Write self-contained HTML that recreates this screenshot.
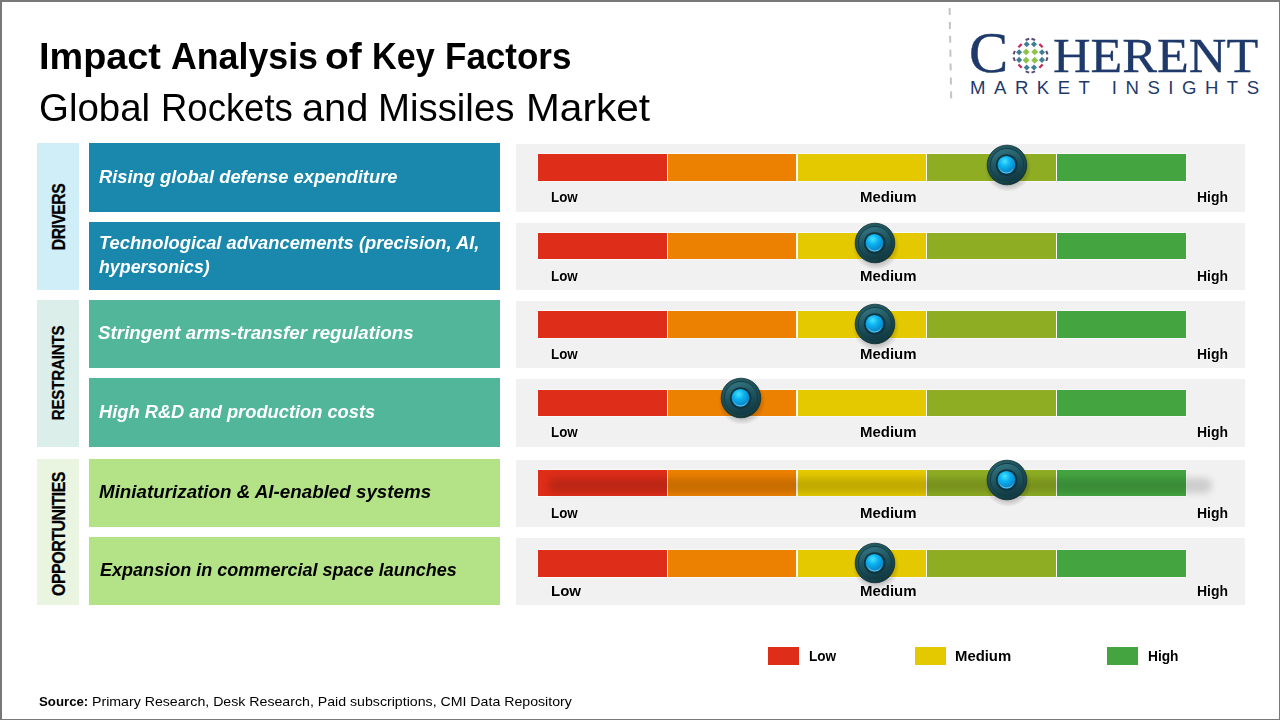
<!DOCTYPE html>
<html><head><meta charset="utf-8">
<style>
*{margin:0;padding:0;box-sizing:border-box}
html,body{width:1280px;height:720px;overflow:hidden;background:#fff}
body{position:relative;font-family:"Liberation Sans",sans-serif}
.t{position:absolute;line-height:1;white-space:nowrap;transform-origin:0 0}
.b{position:absolute}
</style></head><body>
<svg width="0" height="0" style="position:absolute">
<defs>
<radialGradient id="kshadow" cx="0.5" cy="0.5" r="0.5">
 <stop offset="0.55" stop-color="#000" stop-opacity="0.32"/>
 <stop offset="1" stop-color="#000" stop-opacity="0"/>
</radialGradient>
<radialGradient id="kouter" cx="0.42" cy="0.32" r="0.72">
 <stop offset="0" stop-color="#2E6A72"/>
 <stop offset="0.6" stop-color="#1E525A"/>
 <stop offset="0.88" stop-color="#163F46"/>
 <stop offset="1" stop-color="#0A2A2F"/>
</radialGradient>
<linearGradient id="kmid" x1="0.3" y1="0" x2="0.6" y2="1">
 <stop offset="0" stop-color="#347580"/>
 <stop offset="0.45" stop-color="#1F5560"/>
 <stop offset="1" stop-color="#113842"/>
</linearGradient>
<radialGradient id="kcore" cx="0.4" cy="0.3" r="0.75">
 <stop offset="0" stop-color="#45E2FF"/>
 <stop offset="0.4" stop-color="#0CB2F0"/>
 <stop offset="0.8" stop-color="#0A8ACB"/>
 <stop offset="1" stop-color="#0A6296"/>
</radialGradient>
<linearGradient id="kcres" x1="0" y1="0" x2="0" y2="1">
 <stop offset="0.6" stop-color="#5CC8EE" stop-opacity="0"/>
 <stop offset="1" stop-color="#5CC8EE" stop-opacity="0.9"/>
</linearGradient>
<g id="knob">
 <circle cx="1" cy="3.5" r="23.5" fill="url(#kshadow)"/>
 <circle cx="0" cy="0" r="19.8" fill="url(#kouter)" stroke="#0B2D33" stroke-width="0.8"/>
 <circle cx="0" cy="0" r="16.6" fill="url(#kmid)"/>
 <circle cx="0" cy="0" r="16.6" fill="none" stroke="#143C44" stroke-width="1"/>
 <circle cx="-0.3" cy="0" r="10.8" fill="#0E3540"/>
 <circle cx="-0.5" cy="-0.2" r="8.9" fill="url(#kcore)"/>
 <circle cx="-0.5" cy="-0.2" r="8.1" fill="none" stroke="url(#kcres)" stroke-width="1.4"/>
</g>
</defs></svg>
<div class="b" style="left:0;top:0;width:1280px;height:720px;border-top:2px solid #787878;border-left:2px solid #787878;border-right:1px solid #787878;border-bottom:1px solid #787878;z-index:10"></div>
<svg class="b" style="left:0;top:0" width="1280" height="110" viewBox="0 0 1280 110"><line x1="949.6" y1="8" x2="951.2" y2="99" stroke="#C4C4C4" stroke-width="2" stroke-dasharray="7 6.9"/><rect x="1023.65" y="49.45" width="4.9" height="4.9" fill="#8CC34A" transform="rotate(45 1026.10 51.90)"/><rect x="1023.65" y="57.75" width="4.9" height="4.9" fill="#8CC34A" transform="rotate(45 1026.10 60.20)"/><rect x="1032.25" y="49.45" width="4.9" height="4.9" fill="#8CC34A" transform="rotate(45 1034.70 51.90)"/><rect x="1032.25" y="57.75" width="4.9" height="4.9" fill="#8CC34A" transform="rotate(45 1034.70 60.20)"/><rect x="1024.55" y="42.05" width="4.3" height="4.3" fill="#3E7F96" transform="rotate(45 1026.70 44.20)"/><rect x="1031.85" y="42.05" width="4.3" height="4.3" fill="#3E7F96" transform="rotate(45 1034.00 44.20)"/><rect x="1024.55" y="65.35" width="4.3" height="4.3" fill="#3E7F96" transform="rotate(45 1026.70 67.50)"/><rect x="1031.85" y="65.35" width="4.3" height="4.3" fill="#3E7F96" transform="rotate(45 1034.00 67.50)"/><rect x="1016.95" y="50.05" width="4.3" height="4.3" fill="#3E7F96" transform="rotate(45 1019.10 52.20)"/><rect x="1016.95" y="57.75" width="4.3" height="4.3" fill="#3E7F96" transform="rotate(45 1019.10 59.90)"/><rect x="1039.85" y="50.05" width="4.3" height="4.3" fill="#3E7F96" transform="rotate(45 1042.00 52.20)"/><rect x="1039.85" y="57.75" width="4.3" height="4.3" fill="#3E7F96" transform="rotate(45 1042.00 59.90)"/><rect x="1017.80" y="44.40" width="4.6" height="2.4" fill="#C8285A" transform="rotate(-45 1020.10 45.60)"/><rect x="1038.70" y="44.40" width="4.6" height="2.4" fill="#C8285A" transform="rotate(45 1041.00 45.60)"/><rect x="1017.80" y="64.90" width="4.6" height="2.4" fill="#C8285A" transform="rotate(45 1020.10 66.10)"/><rect x="1038.70" y="64.90" width="4.6" height="2.4" fill="#C8285A" transform="rotate(-45 1041.00 66.10)"/><rect x="1025.50" y="38.40" width="3.8" height="2.0" fill="#5A4A78" transform="rotate(-20 1027.40 39.40)"/><rect x="1031.40" y="38.40" width="3.8" height="2.0" fill="#5A4A78" transform="rotate(20 1033.30 39.40)"/><rect x="1025.50" y="71.00" width="3.8" height="2.0" fill="#5A4A78" transform="rotate(20 1027.40 72.00)"/><rect x="1031.40" y="71.00" width="3.8" height="2.0" fill="#5A4A78" transform="rotate(-20 1033.30 72.00)"/><rect x="1012.30" y="51.60" width="3.8" height="2.0" fill="#5A4A78" transform="rotate(-70 1014.20 52.60)"/><rect x="1012.30" y="58.20" width="3.8" height="2.0" fill="#5A4A78" transform="rotate(70 1014.20 59.20)"/><rect x="1045.00" y="51.60" width="3.8" height="2.0" fill="#5A4A78" transform="rotate(70 1046.90 52.60)"/><rect x="1045.00" y="58.20" width="3.8" height="2.0" fill="#5A4A78" transform="rotate(-70 1046.90 59.20)"/></svg>
<div class="t" style="left:968.50px;top:24.88px;font-size:56.00px;font-family:'Liberation Serif', serif;font-weight:normal;font-style:normal;color:#1F3A6A;transform:scaleX(1.0500);-webkit-text-stroke:0.4px #1F3A6A">C</div>
<div class="t" style="left:1053.00px;top:31.54px;font-size:48.50px;font-family:'Liberation Serif', serif;font-weight:normal;font-style:normal;color:#1F3A6A;transform:scaleX(1.0730);-webkit-text-stroke:0.3px #1F3A6A">HERENT</div>
<div class="t" style="left:970.00px;top:78.75px;font-size:18.60px;font-family:'Liberation Sans', sans-serif;font-weight:normal;font-style:normal;color:#1F3A6A;transform:scaleX(1.0000);letter-spacing:8.5px">MARKET INSIGHTS</div>
<div class="t" style="left:38.78px;top:38.26px;font-size:37.60px;font-family:'Liberation Sans', sans-serif;font-weight:bold;font-style:normal;color:#000;transform:scaleX(1.0068);">Impact</div>
<div class="t" style="left:170.55px;top:38.26px;font-size:37.60px;font-family:'Liberation Sans', sans-serif;font-weight:bold;font-style:normal;color:#000;transform:scaleX(0.9507);">Analysis</div>
<div class="t" style="left:324.68px;top:38.26px;font-size:37.60px;font-family:'Liberation Sans', sans-serif;font-weight:bold;font-style:normal;color:#000;transform:scaleX(1.0338);">of</div>
<div class="t" style="left:371.87px;top:38.26px;font-size:37.60px;font-family:'Liberation Sans', sans-serif;font-weight:bold;font-style:normal;color:#000;transform:scaleX(0.9106);">Key</div>
<div class="t" style="left:444.81px;top:38.26px;font-size:37.60px;font-family:'Liberation Sans', sans-serif;font-weight:bold;font-style:normal;color:#000;transform:scaleX(0.9313);">Factors</div>
<div class="t" style="left:39.02px;top:88.75px;font-size:38.80px;font-family:'Liberation Sans', sans-serif;font-weight:normal;font-style:normal;color:#000;transform:scaleX(0.9907);">Global</div>
<div class="t" style="left:160.88px;top:88.75px;font-size:38.80px;font-family:'Liberation Sans', sans-serif;font-weight:normal;font-style:normal;color:#000;transform:scaleX(0.9404);">Rockets</div>
<div class="t" style="left:302.25px;top:88.75px;font-size:38.80px;font-family:'Liberation Sans', sans-serif;font-weight:normal;font-style:normal;color:#000;transform:scaleX(1.0250);">and</div>
<div class="t" style="left:378.03px;top:88.75px;font-size:38.80px;font-family:'Liberation Sans', sans-serif;font-weight:normal;font-style:normal;color:#000;transform:scaleX(0.9888);">Missiles</div>
<div class="t" style="left:525.66px;top:88.75px;font-size:38.80px;font-family:'Liberation Sans', sans-serif;font-weight:normal;font-style:normal;color:#000;transform:scaleX(1.0461);">Market</div>
<div class="b" style="left:37px;top:143px;width:42px;height:147px;background:#D0EEF8;"></div>
<div class="b" style="left:59.0px;top:216.5px;width:0;height:0"><div style="position:absolute;left:0;top:0;transform:translate(-50%,-50%) rotate(-90deg) scaleX(0.84);white-space:nowrap;font-weight:bold;font-size:18.7px;line-height:1;color:#000;letter-spacing:-0.6px;-webkit-text-stroke:0.25px #000">DRIVERS</div></div>
<div class="b" style="left:37px;top:300px;width:42px;height:147px;background:#DCEEEA;"></div>
<div class="b" style="left:59.0px;top:373.0px;width:0;height:0"><div style="position:absolute;left:0;top:0;transform:translate(-50%,-50%) rotate(-90deg) scaleX(0.9);white-space:nowrap;font-weight:bold;font-size:16.8px;line-height:1;color:#000;letter-spacing:-0.2px;-webkit-text-stroke:0.25px #000">RESTRAINTS</div></div>
<div class="b" style="left:37px;top:459px;width:42px;height:146px;background:#EAF5E1;"></div>
<div class="b" style="left:59.0px;top:534.0px;width:0;height:0"><div style="position:absolute;left:0;top:0;transform:translate(-50%,-50%) rotate(-90deg) scaleX(0.86);white-space:nowrap;font-weight:bold;font-size:18.6px;line-height:1;color:#000;letter-spacing:-0.6px;-webkit-text-stroke:0.25px #000">OPPORTUNITIES</div></div>
<div class="b" style="left:89px;top:143px;width:411px;height:69px;background:#1A88AD;"></div>
<div class="t" style="left:99.00px;top:167.64px;font-size:18.50px;font-family:'Liberation Sans', sans-serif;font-weight:bold;font-style:italic;color:#fff;transform:scaleX(0.9910);">Rising global defense expenditure</div>
<div class="b" style="left:516px;top:144px;width:729px;height:68px;background:#F1F1F1;"></div>
<div class="b" style="left:538px;top:154px;width:129px;height:27px;background:#DE2D19;box-shadow:0 0 0 1px rgba(255,255,255,0.55)"></div>
<div class="b" style="left:668px;top:154px;width:128px;height:27px;background:#EC8000;box-shadow:0 0 0 1px rgba(255,255,255,0.55)"></div>
<div class="b" style="left:798px;top:154px;width:128px;height:27px;background:#E4C900;box-shadow:0 0 0 1px rgba(255,255,255,0.55)"></div>
<div class="b" style="left:927px;top:154px;width:129px;height:27px;background:#8FAD23;box-shadow:0 0 0 1px rgba(255,255,255,0.55)"></div>
<div class="b" style="left:1057px;top:154px;width:129px;height:27px;background:#44A540;box-shadow:0 0 0 1px rgba(255,255,255,0.55)"></div>
<div class="t" style="left:551.00px;top:189.72px;font-size:14.50px;font-family:'Liberation Sans', sans-serif;font-weight:bold;font-style:normal;color:#000;transform:scaleX(0.9200);text-shadow:0 0 1.5px #fff,0 0 1.5px #fff">Low</div>
<div class="t" style="left:860.00px;top:189.89px;font-size:14.30px;font-family:'Liberation Sans', sans-serif;font-weight:bold;font-style:normal;color:#000;transform:scaleX(1.0470);text-shadow:0 0 1.5px #fff,0 0 1.5px #fff">Medium</div>
<div class="t" style="left:1197.00px;top:189.89px;font-size:14.30px;font-family:'Liberation Sans', sans-serif;font-weight:bold;font-style:normal;color:#000;transform:scaleX(0.9770);text-shadow:0 0 1.5px #fff,0 0 1.5px #fff">High</div>
<svg class="b" style="left:981.3px;top:139.3px" width="52" height="52" viewBox="-26 -26 52 52"><use href="#knob"/></svg>
<div class="b" style="left:89px;top:222px;width:411px;height:68px;background:#1A88AD;"></div>
<div class="t" style="left:99.00px;top:234.34px;font-size:18.50px;font-family:'Liberation Sans', sans-serif;font-weight:bold;font-style:italic;color:#fff;transform:scaleX(0.9900);">Technological advancements (precision, AI,</div>
<div class="t" style="left:99.00px;top:257.94px;font-size:18.50px;font-family:'Liberation Sans', sans-serif;font-weight:bold;font-style:italic;color:#fff;transform:scaleX(0.9620);">hypersonics)</div>
<div class="b" style="left:516px;top:223px;width:729px;height:67px;background:#F1F1F1;"></div>
<div class="b" style="left:538px;top:233px;width:129px;height:26px;background:#DE2D19;box-shadow:0 0 0 1px rgba(255,255,255,0.55)"></div>
<div class="b" style="left:668px;top:233px;width:128px;height:26px;background:#EC8000;box-shadow:0 0 0 1px rgba(255,255,255,0.55)"></div>
<div class="b" style="left:798px;top:233px;width:128px;height:26px;background:#E4C900;box-shadow:0 0 0 1px rgba(255,255,255,0.55)"></div>
<div class="b" style="left:927px;top:233px;width:129px;height:26px;background:#8FAD23;box-shadow:0 0 0 1px rgba(255,255,255,0.55)"></div>
<div class="b" style="left:1057px;top:233px;width:129px;height:26px;background:#44A540;box-shadow:0 0 0 1px rgba(255,255,255,0.55)"></div>
<div class="t" style="left:551.00px;top:268.72px;font-size:14.50px;font-family:'Liberation Sans', sans-serif;font-weight:bold;font-style:normal;color:#000;transform:scaleX(0.9200);text-shadow:0 0 1.5px #fff,0 0 1.5px #fff">Low</div>
<div class="t" style="left:860.00px;top:268.89px;font-size:14.30px;font-family:'Liberation Sans', sans-serif;font-weight:bold;font-style:normal;color:#000;transform:scaleX(1.0470);text-shadow:0 0 1.5px #fff,0 0 1.5px #fff">Medium</div>
<div class="t" style="left:1197.00px;top:268.89px;font-size:14.30px;font-family:'Liberation Sans', sans-serif;font-weight:bold;font-style:normal;color:#000;transform:scaleX(0.9770);text-shadow:0 0 1.5px #fff,0 0 1.5px #fff">High</div>
<svg class="b" style="left:848.5px;top:217px" width="52" height="52" viewBox="-26 -26 52 52"><use href="#knob"/></svg>
<div class="b" style="left:89px;top:300px;width:411px;height:68px;background:#52B69A;"></div>
<div class="t" style="left:98.00px;top:324.34px;font-size:18.50px;font-family:'Liberation Sans', sans-serif;font-weight:bold;font-style:italic;color:#fff;transform:scaleX(1.0170);">Stringent arms-transfer regulations</div>
<div class="b" style="left:516px;top:301px;width:729px;height:67px;background:#F1F1F1;"></div>
<div class="b" style="left:538px;top:311px;width:129px;height:27px;background:#DE2D19;box-shadow:0 0 0 1px rgba(255,255,255,0.55)"></div>
<div class="b" style="left:668px;top:311px;width:128px;height:27px;background:#EC8000;box-shadow:0 0 0 1px rgba(255,255,255,0.55)"></div>
<div class="b" style="left:798px;top:311px;width:128px;height:27px;background:#E4C900;box-shadow:0 0 0 1px rgba(255,255,255,0.55)"></div>
<div class="b" style="left:927px;top:311px;width:129px;height:27px;background:#8FAD23;box-shadow:0 0 0 1px rgba(255,255,255,0.55)"></div>
<div class="b" style="left:1057px;top:311px;width:129px;height:27px;background:#44A540;box-shadow:0 0 0 1px rgba(255,255,255,0.55)"></div>
<div class="t" style="left:551.00px;top:346.72px;font-size:14.50px;font-family:'Liberation Sans', sans-serif;font-weight:bold;font-style:normal;color:#000;transform:scaleX(0.9200);text-shadow:0 0 1.5px #fff,0 0 1.5px #fff">Low</div>
<div class="t" style="left:860.00px;top:346.89px;font-size:14.30px;font-family:'Liberation Sans', sans-serif;font-weight:bold;font-style:normal;color:#000;transform:scaleX(1.0470);text-shadow:0 0 1.5px #fff,0 0 1.5px #fff">Medium</div>
<div class="t" style="left:1197.00px;top:346.89px;font-size:14.30px;font-family:'Liberation Sans', sans-serif;font-weight:bold;font-style:normal;color:#000;transform:scaleX(0.9770);text-shadow:0 0 1.5px #fff,0 0 1.5px #fff">High</div>
<svg class="b" style="left:848.5px;top:298px" width="52" height="52" viewBox="-26 -26 52 52"><use href="#knob"/></svg>
<div class="b" style="left:89px;top:378px;width:411px;height:69px;background:#52B69A;"></div>
<div class="t" style="left:99.00px;top:403.34px;font-size:18.50px;font-family:'Liberation Sans', sans-serif;font-weight:bold;font-style:italic;color:#fff;transform:scaleX(0.9880);">High R&amp;D and production costs</div>
<div class="b" style="left:516px;top:379px;width:729px;height:68px;background:#F1F1F1;"></div>
<div class="b" style="left:538px;top:390px;width:129px;height:26px;background:#DE2D19;box-shadow:0 0 0 1px rgba(255,255,255,0.55)"></div>
<div class="b" style="left:668px;top:390px;width:128px;height:26px;background:#EC8000;box-shadow:0 0 0 1px rgba(255,255,255,0.55)"></div>
<div class="b" style="left:798px;top:390px;width:128px;height:26px;background:#E4C900;box-shadow:0 0 0 1px rgba(255,255,255,0.55)"></div>
<div class="b" style="left:927px;top:390px;width:129px;height:26px;background:#8FAD23;box-shadow:0 0 0 1px rgba(255,255,255,0.55)"></div>
<div class="b" style="left:1057px;top:390px;width:129px;height:26px;background:#44A540;box-shadow:0 0 0 1px rgba(255,255,255,0.55)"></div>
<div class="t" style="left:551.00px;top:424.72px;font-size:14.50px;font-family:'Liberation Sans', sans-serif;font-weight:bold;font-style:normal;color:#000;transform:scaleX(0.9200);text-shadow:0 0 1.5px #fff,0 0 1.5px #fff">Low</div>
<div class="t" style="left:860.00px;top:424.89px;font-size:14.30px;font-family:'Liberation Sans', sans-serif;font-weight:bold;font-style:normal;color:#000;transform:scaleX(1.0470);text-shadow:0 0 1.5px #fff,0 0 1.5px #fff">Medium</div>
<div class="t" style="left:1197.00px;top:424.89px;font-size:14.30px;font-family:'Liberation Sans', sans-serif;font-weight:bold;font-style:normal;color:#000;transform:scaleX(0.9770);text-shadow:0 0 1.5px #fff,0 0 1.5px #fff">High</div>
<svg class="b" style="left:714.5px;top:372.3px" width="52" height="52" viewBox="-26 -26 52 52"><use href="#knob"/></svg>
<div class="b" style="left:89px;top:459px;width:411px;height:68px;background:#B3E287;"></div>
<div class="t" style="left:99.00px;top:483.14px;font-size:18.50px;font-family:'Liberation Sans', sans-serif;font-weight:bold;font-style:italic;color:#000;transform:scaleX(1.0150);">Miniaturization &amp; AI-enabled systems</div>
<div class="b" style="left:516px;top:460px;width:729px;height:67px;background:#F1F1F1;"></div>
<div class="b" style="left:538px;top:470px;width:129px;height:26px;background:#DE2D19;box-shadow:0 0 0 1px rgba(255,255,255,0.55)"></div>
<div class="b" style="left:668px;top:470px;width:128px;height:26px;background:#EC8000;box-shadow:0 0 0 1px rgba(255,255,255,0.55)"></div>
<div class="b" style="left:798px;top:470px;width:128px;height:26px;background:#E4C900;box-shadow:0 0 0 1px rgba(255,255,255,0.55)"></div>
<div class="b" style="left:927px;top:470px;width:129px;height:26px;background:#8FAD23;box-shadow:0 0 0 1px rgba(255,255,255,0.55)"></div>
<div class="b" style="left:1057px;top:470px;width:129px;height:26px;background:#44A540;box-shadow:0 0 0 1px rgba(255,255,255,0.55)"></div>
<div class="b" style="left:548px;top:478px;width:664px;height:15px;background:rgba(0,0,0,0.15);border-radius:8px;filter:blur(3.5px)"></div>
<div class="t" style="left:551.00px;top:505.72px;font-size:14.50px;font-family:'Liberation Sans', sans-serif;font-weight:bold;font-style:normal;color:#000;transform:scaleX(0.9200);text-shadow:0 0 1.5px #fff,0 0 1.5px #fff">Low</div>
<div class="t" style="left:860.00px;top:505.89px;font-size:14.30px;font-family:'Liberation Sans', sans-serif;font-weight:bold;font-style:normal;color:#000;transform:scaleX(1.0470);text-shadow:0 0 1.5px #fff,0 0 1.5px #fff">Medium</div>
<div class="t" style="left:1197.00px;top:505.89px;font-size:14.30px;font-family:'Liberation Sans', sans-serif;font-weight:bold;font-style:normal;color:#000;transform:scaleX(0.9770);text-shadow:0 0 1.5px #fff,0 0 1.5px #fff">High</div>
<svg class="b" style="left:981.3px;top:453.8px" width="52" height="52" viewBox="-26 -26 52 52"><use href="#knob"/></svg>
<div class="b" style="left:89px;top:537px;width:411px;height:68px;background:#B3E287;"></div>
<div class="t" style="left:99.50px;top:561.14px;font-size:18.50px;font-family:'Liberation Sans', sans-serif;font-weight:bold;font-style:italic;color:#000;transform:scaleX(0.9750);">Expansion in commercial space launches</div>
<div class="b" style="left:516px;top:538px;width:729px;height:67px;background:#F1F1F1;"></div>
<div class="b" style="left:538px;top:550px;width:129px;height:27px;background:#DE2D19;box-shadow:0 0 0 1px rgba(255,255,255,0.55)"></div>
<div class="b" style="left:668px;top:550px;width:128px;height:27px;background:#EC8000;box-shadow:0 0 0 1px rgba(255,255,255,0.55)"></div>
<div class="b" style="left:798px;top:550px;width:128px;height:27px;background:#E4C900;box-shadow:0 0 0 1px rgba(255,255,255,0.55)"></div>
<div class="b" style="left:927px;top:550px;width:129px;height:27px;background:#8FAD23;box-shadow:0 0 0 1px rgba(255,255,255,0.55)"></div>
<div class="b" style="left:1057px;top:550px;width:129px;height:27px;background:#44A540;box-shadow:0 0 0 1px rgba(255,255,255,0.55)"></div>
<div class="t" style="left:551.00px;top:583.38px;font-size:15.50px;font-family:'Liberation Sans', sans-serif;font-weight:bold;font-style:normal;color:#000;transform:scaleX(0.9700);text-shadow:0 0 1.5px #fff,0 0 1.5px #fff">Low</div>
<div class="t" style="left:860.00px;top:584.39px;font-size:14.30px;font-family:'Liberation Sans', sans-serif;font-weight:bold;font-style:normal;color:#000;transform:scaleX(1.0470);text-shadow:0 0 1.5px #fff,0 0 1.5px #fff">Medium</div>
<div class="t" style="left:1197.00px;top:584.39px;font-size:14.30px;font-family:'Liberation Sans', sans-serif;font-weight:bold;font-style:normal;color:#000;transform:scaleX(0.9770);text-shadow:0 0 1.5px #fff,0 0 1.5px #fff">High</div>
<svg class="b" style="left:848.5px;top:536.9px" width="52" height="52" viewBox="-26 -26 52 52"><use href="#knob"/></svg>
<div class="b" style="left:768px;top:647px;width:31px;height:18px;background:#DE2D19;"></div>
<div class="t" style="left:809.00px;top:648.69px;font-size:14.30px;font-family:'Liberation Sans', sans-serif;font-weight:bold;font-style:normal;color:#000;transform:scaleX(0.9500);text-shadow:0 0 1.5px #fff,0 0 1.5px #fff">Low</div>
<div class="b" style="left:915px;top:647px;width:31px;height:18px;background:#E4C900;"></div>
<div class="t" style="left:955.00px;top:648.69px;font-size:14.30px;font-family:'Liberation Sans', sans-serif;font-weight:bold;font-style:normal;color:#000;transform:scaleX(1.0400);text-shadow:0 0 1.5px #fff,0 0 1.5px #fff">Medium</div>
<div class="b" style="left:1107px;top:647px;width:31px;height:18px;background:#44A540;"></div>
<div class="t" style="left:1148.00px;top:648.69px;font-size:14.30px;font-family:'Liberation Sans', sans-serif;font-weight:bold;font-style:normal;color:#000;transform:scaleX(0.9600);text-shadow:0 0 1.5px #fff,0 0 1.5px #fff">High</div>
<div class="t" style="left:39.00px;top:695.32px;font-size:13.50px;font-family:'Liberation Sans', sans-serif;font-weight:bold;font-style:normal;color:#000;transform:scaleX(0.9800);">Source:</div>
<div class="t" style="left:92.00px;top:695.32px;font-size:13.50px;font-family:'Liberation Sans', sans-serif;font-weight:normal;font-style:normal;color:#000;transform:scaleX(1.0485);">Primary Research, Desk Research, Paid subscriptions, CMI Data Repository</div>
</body></html>
